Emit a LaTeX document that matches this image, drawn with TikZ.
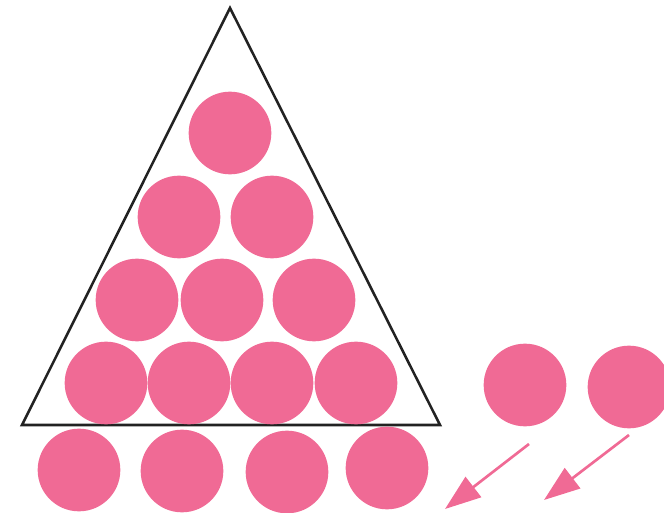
\documentclass[tikz,border=0pt]{standalone}
\usepackage{tikz}
\usetikzlibrary{arrows.meta, positioning}
\definecolor{mypink}{HTML}{F06A95}
\definecolor{mydark}{HTML}{222222}

\begin{document}
\begin{tikzpicture}[
  x=0.75pt, y=-0.75pt,
  ball/.style={circle, fill=mypink, inner sep=0pt, minimum size=62pt},
  arr/.style={-{Triangle[length=27pt, width=19pt]}, mypink, line width=2pt}
]
\useasboundingbox (0,0) rectangle (664,513);
\clip (0,0) rectangle (664,513);
% triangle
\coordinate (apex) at (230,8);
\coordinate (bl) at (22,425);
\coordinate (br) at (440,425);
\draw[mydark, line width=1.9pt, line join=miter] (apex) -- (bl) -- (br) -- cycle;
% balls inside the triangle
\node[ball] (r1a) at (230,133) {};
\node[ball] (r2a) at (179,217) {};
\node[ball] (r2b) at (272,217) {};
\node[ball] (r3a) at (137,300) {};
\node[ball] (r3b) at (222,300) {};
\node[ball] (r3c) at (314,300) {};
\node[ball] (r4a) at (106,383) {};
\node[ball] (r4b) at (189,383) {};
\node[ball] (r4c) at (272,383) {};
\node[ball] (r4d) at (356,383) {};
% row below the base
\node[ball] (r5a) at (79,470) {};
\node[ball] (r5b) at (182,471) {};
\node[ball] (r5c) at (287,472) {};
\node[ball] (r5d) at (387,468) {};
% spare balls
\node[ball] (s1) at (525,385) {};
\node[ball] (s2) at (629,387) {};
% arrows
\coordinate (t1) at (529,444);
\coordinate (h1) at (445,509);
\coordinate (t2) at (629,435);
\coordinate (h2) at (544,500);
\draw[arr] (t1) -- (h1);
\draw[arr] (t2) -- (h2);
\end{tikzpicture}
\end{document}
